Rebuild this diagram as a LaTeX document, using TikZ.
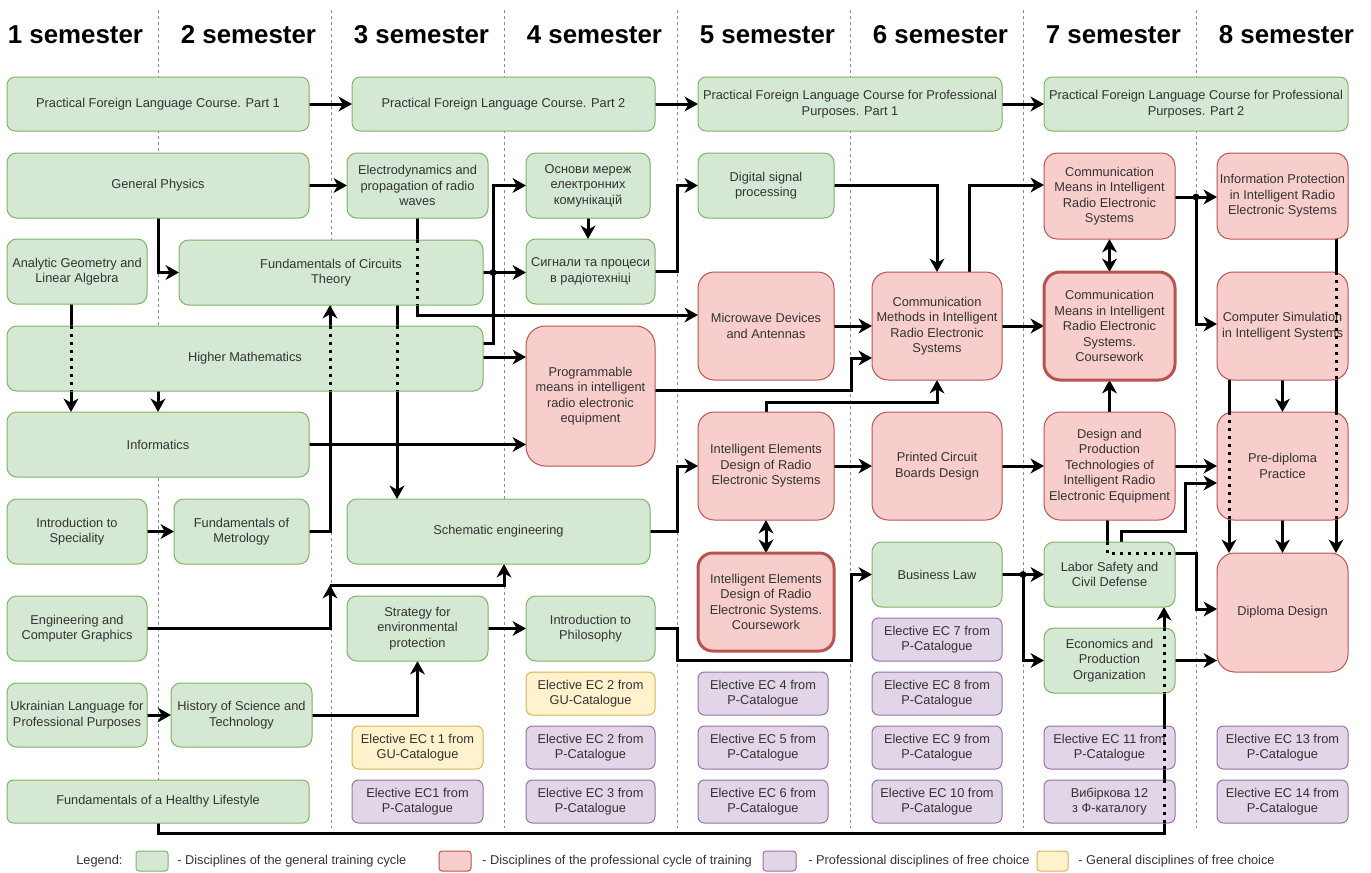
\documentclass[tikz,border=0pt]{standalone}
\usepackage{fontspec}
\setmainfont{Liberation Sans}
\usetikzlibrary{arrows.meta}
\definecolor{gfill}{HTML}{D5E8D4}\definecolor{gline}{HTML}{82B366}
\definecolor{rfill}{HTML}{F8CECC}\definecolor{rline}{HTML}{B85450}
\definecolor{pfill}{HTML}{E1D5E7}\definecolor{pline}{HTML}{9673A6}
\definecolor{yfill}{HTML}{FFF2CC}\definecolor{yline}{HTML}{D6B656}
\definecolor{txt}{HTML}{333333}
\pgfdeclarelayer{gridl}
\pgfdeclarelayer{edgel}
\pgfsetlayers{gridl,edgel,main}
\newcommand\mybox[7]{%
  \pgfmathsetmacro\mybw{(#5-#3)*0.75}%
  \pgfmathsetmacro\mybh{(#6-#4)*0.75}%
  \pgfmathsetmacro\mybr{0.15*min(\mybw,\mybh)}%
  \node[#1, minimum width=\mybw pt, minimum height=\mybh pt, rounded corners=\mybr pt] (#2) at ({(#3+#5)/2},{(#4+#6)/2}) {#7};}
\begin{document}
\begin{tikzpicture}[x=0.75pt,y=-0.75pt,
  box/.style={draw, line width=0.75pt, align=center, inner sep=1pt, outer sep=0pt, text=txt, font=\fontsize{9.6}{11.6}\selectfont},
  gbox/.style={box, fill=gfill, draw=gline},
  rbox/.style={box, fill=rfill, draw=rline},
  rthick/.style={rbox, line width=2.25pt},
  pbox/.style={box, fill=pfill, draw=pline},
  ybox/.style={box, fill=yfill, draw=yline},
  conn/.style={line width=2.25pt, -{Stealth[length=10pt,width=11pt,inset=3pt]}},
  dconn/.style={line width=2.25pt, {Stealth[length=10pt,width=11pt,inset=3pt]}-{Stealth[length=10pt,width=11pt,inset=3pt]}},
  dots/.style={line width=2.25pt, dash pattern=on 2.25pt off 3.75pt},
  gridline/.style={black!45, line width=0.75pt, dash pattern=on 2.25pt off 2.25pt},
  hdr/.style={font=\bfseries\fontsize{19.4}{23}\selectfont, anchor=base, text=black},
  jdot/.style={circle, fill=black, inner sep=0pt, minimum size=5.2pt},
  legtxt/.style={anchor=west, text=txt, font=\fontsize{9.6}{11.6}\selectfont, inner sep=0pt}]
\begin{pgfonlayer}{gridl}
\fill[white] (0,0) rectangle (1371,872);
\foreach \gx in {158,331,504,677,850,1023,1196} \draw[gridline] (\gx,10) -- (\gx,828);
\end{pgfonlayer}
\useasboundingbox (0,0) rectangle (1371,872);
% headers
\foreach \k in {1,...,8} \node[hdr] (hd\k) at ({75.5+173*(\k-1)},43) {\k\ semester};
% boxes
\mybox{gbox}{pfl1}{7}{77}{309}{131}{Practical Foreign Language Course. Part 1}
\mybox{gbox}{pfl2}{352}{77}{655}{131}{Practical Foreign Language Course. Part 2}
\mybox{gbox}{pflp1}{698}{77}{1002}{131}{Practical Foreign Language Course for Professional\\Purposes. Part 1}
\mybox{gbox}{pflp2}{1044}{77}{1348}{131}{Practical Foreign Language Course for Professional\\Purposes. Part 2}
\mybox{gbox}{phys}{7}{153}{309}{218}{General Physics}
\mybox{gbox}{edyn}{347}{153}{488}{218}{Electrodynamics and\\propagation of radio\\waves}
\mybox{gbox}{osn}{526}{153}{650}{218}{Основи мереж\\електронних\\комунікацій}
\mybox{gbox}{dsp}{698}{153}{834}{218}{Digital signal\\processing}
\mybox{rbox}{cmis}{1044}{153}{1175}{239}{Communication\\Means in Intelligent\\Radio Electronic\\Systems}
\mybox{rbox}{iprot}{1217}{153}{1348}{239}{Information Protection\\in Intelligent Radio\\Electronic Systems}
\mybox{gbox}{angeo}{7}{239}{147}{304}{Analytic Geometry and\\Linear Algebra}
\mybox{gbox}{circ}{179}{240}{483}{305}{Fundamentals of Circuits\\Theory}
\mybox{gbox}{sig}{526}{239}{655}{304}{Сигнали та процеси\\в радіотехніці}
\mybox{rbox}{micro}{698}{272}{834}{380}{Microwave Devices\\and Antennas}
\mybox{rbox}{cmeth}{872}{272}{1002}{380}{Communication\\Methods in Intelligent\\Radio Electronic\\Systems}
\mybox{rthick}{cmcw}{1044}{272}{1175}{380}{Communication\\Means in Intelligent\\Radio Electronic\\Systems.\\Coursework}
\mybox{rbox}{csim}{1217}{272}{1348}{380}{Computer Simulation\\in Intelligent Systems}
\mybox{gbox}{hmath}{7}{326}{483}{391}{Higher Mathematics}
\mybox{rbox}{prog}{526}{326}{655}{466}{Programmable\\means in intelligent\\radio electronic\\equipment}
\mybox{gbox}{info}{7}{412}{309}{477}{Informatics}
\mybox{rbox}{ied}{698}{412}{834}{520}{Intelligent Elements\\Design of Radio\\Electronic Systems}
\mybox{rbox}{pcb}{872}{412}{1002}{520}{Printed Circuit\\Boards Design}
\mybox{rbox}{dpt}{1044}{412}{1175}{520}{Design and\\Production\\Technologies of\\Intelligent Radio\\Electronic Equipment}
\mybox{rbox}{pdp}{1217}{412}{1348}{520}{Pre-diploma\\Practice}
\mybox{gbox}{intro}{7}{499}{147}{564}{Introduction to\\Speciality}
\mybox{gbox}{metro}{174}{499}{309}{564}{Fundamentals of\\Metrology}
\mybox{gbox}{schem}{347}{499}{650}{564}{Schematic engineering}
\mybox{rthick}{iedcw}{698}{553}{834}{651}{Intelligent Elements\\Design of Radio\\Electronic Systems.\\Coursework}
\mybox{gbox}{blaw}{872}{542}{1002}{607}{Business Law}
\mybox{gbox}{labor}{1044}{542}{1175}{607}{Labor Safety and\\Civil Defense}
\mybox{rbox}{dipl}{1217}{553}{1348}{672}{Diploma Design}
\mybox{gbox}{ecg}{7}{596}{147}{661}{Engineering and\\Computer Graphics}
\mybox{gbox}{strat}{347}{596}{488}{661}{Strategy for\\environmental\\protection}
\mybox{gbox}{phil}{526}{596}{655}{661}{Introduction to\\Philosophy}
\mybox{pbox}{ec7}{872}{618}{1002}{661}{Elective EC 7 from\\P-Catalogue}
\mybox{gbox}{econ}{1044}{628}{1175}{693}{Economics and\\Production\\Organization}
\mybox{gbox}{ukr}{7}{683}{147}{747}{Ukrainian Language for\\Professional Purposes}
\mybox{gbox}{hist}{171}{683}{312}{747}{History of Science and\\Technology}
\mybox{ybox}{ec2gu}{526}{672}{655}{715}{Elective EC 2 from\\GU-Catalogue}
\mybox{pbox}{ec4}{698}{672}{828}{715}{Elective EC 4 from\\P-Catalogue}
\mybox{pbox}{ec8}{872}{672}{1002}{715}{Elective EC 8 from\\P-Catalogue}
\mybox{ybox}{ec1gu}{352}{726}{483}{769}{Elective EC t 1 from\\GU-Catalogue}
\mybox{pbox}{ec2}{526}{726}{655}{769}{Elective EC 2 from\\P-Catalogue}
\mybox{pbox}{ec5}{698}{726}{828}{769}{Elective EC 5 from\\P-Catalogue}
\mybox{pbox}{ec9}{872}{726}{1002}{769}{Elective EC 9 from\\P-Catalogue}
\mybox{pbox}{ec11}{1044}{726}{1175}{769}{Elective EC 11 from\\P-Catalogue}
\mybox{pbox}{ec13}{1217}{726}{1348}{769}{Elective EC 13 from\\P-Catalogue}
\mybox{gbox}{health}{7}{780}{309}{823}{Fundamentals of a Healthy Lifestyle}
\mybox{pbox}{ec1}{352}{780}{483}{823}{Elective EC1 from\\P-Catalogue}
\mybox{pbox}{ec3}{526}{780}{655}{823}{Elective EC 3 from\\P-Catalogue}
\mybox{pbox}{ec6}{698}{780}{828}{823}{Elective EC 6 from\\P-Catalogue}
\mybox{pbox}{ec10}{872}{780}{1002}{823}{Elective EC 10 from\\P-Catalogue}
\mybox{pbox}{vyb}{1044}{780}{1175}{823}{Вибіркова 12\\з Ф-каталогу}
\mybox{pbox}{ec14}{1217}{780}{1348}{823}{Elective EC 14 from\\P-Catalogue}
% legend
\node[legtxt] (legend) at (76,861) {Legend:};
\mybox{gbox}{lg1}{136}{851}{168}{871}{}
\node[legtxt] (lt1) at (177,861) {- Disciplines of the general training cycle};
\mybox{rbox}{lg2}{439}{851}{471}{871}{}
\node[legtxt] (lt2) at (482,861) {- Disciplines of the professional cycle of training};
\mybox{pbox}{lg3}{763}{851}{796}{871}{}
\node[legtxt] (lt3) at (808,861) {- Professional disciplines of free choice};
\mybox{ybox}{lg4}{1037}{851}{1068}{871}{}
\node[legtxt] (lt4) at (1078,861) {- General disciplines of free choice};
\coordinate (j1) at (330,585);
% connectors
\begin{pgfonlayer}{edgel}
\draw[conn] (pfl1.east) -- (pfl2.west);
\draw[conn] (pfl2.east) -- (pflp1.west);
\draw[conn] (pflp1.east) -- (pflp2.west);
\draw[conn] (phys.east) -- (edyn.west);
\draw[conn] (phys.south) |- (circ.west);
\draw[conn] (edyn.south) |- (micro.west |- 0,315);
\draw[conn] (circ.east) -- (sig.west |- circ.east);
\draw[conn] (hmath.east |- 0,343) -- (493,343) |- (osn.west);
\draw[conn] (osn.south) -- (osn.south |- sig.north);
\draw[conn] (sig.east) -- (sig.east -| 677,0) |- (dsp.west);
\draw[conn] (hmath.east |- 0,357) -- (prog.west |- 0,357);
\draw[conn] (info.east) -- (prog.west |- info.east);
\draw[conn] (metro.east) -| (circ.south -| 330,0);
\draw[conn] (circ.south -| 397,0) -- (schem.north -| 397,0);
\draw[conn] (angeo.south -| 71,0) -- (info.north -| 71,0);
\draw[conn] (hmath.south -| info.north) -- (info.north);
\draw[conn] (intro.east) -- (metro.west);
\draw[conn] (ecg.east) -| (j1);
\draw[conn] (j1) -| (schem.south -| 504,0);
\draw[conn] (ukr.east) -- (hist.west);
\draw[conn] (hist.east) -| (strat.south);
\draw[conn] (strat.east) -- (phil.west);
\draw[conn] (phil.east) -- (phil.east -| 677,0) -- (677,660) -- (851,660) |- (blaw.west);
\draw[conn] (schem.east) -- (schem.east -| 677,0) |- (ied.west);
\draw[conn] (micro.east) -- (cmeth.west |- micro.east);
\draw[conn] (prog.east |- 0,390) -- (851,390) |- (cmeth.west |- 0,358);
\draw[conn] (ied.north) -- (ied.north |- 0,402) -| (cmeth.south);
\draw[conn] (dsp.east) -| (cmeth.north);
\draw[conn] (cmeth.north -| 969,0) |- (cmis.west |- 0,185);
\draw[conn] (cmeth.east) -- (cmcw.west);
\draw[conn] (ied.east) -- (pcb.west);
\draw[conn] (pcb.east) -- (dpt.west);
\draw[dconn] (ied.south) -- (iedcw.north);
\draw[dconn] (cmis.south) -- (cmcw.north);
\draw[conn] (dpt.north) -- (cmcw.south);
\draw[conn] (cmis.east |- 0,197) -- (iprot.west |- 0,197);
\draw[conn] (cmis.east |- 0,197) -- (1196,197) |- (csim.west |- 0,324);
\draw[conn] (iprot.south -| 1336,0) -- (dipl.north -| 1336,0);
\draw[conn] (csim.south) -- (pdp.north);
\draw[conn] (csim.south -| 1229,0) -- (dipl.north -| 1229,0);
\draw[conn] (pdp.south) -- (dipl.north);
\draw[conn] (dpt.east) -- (pdp.west);
\draw[conn] (labor.north -| 1121,0) -- (1121,531) -- (1185,531) |- (pdp.west |- 0,483);
\draw[conn] (dpt.south -| 1107,0) -- (1107,553) -- (1196,553) |- (dipl.west |- 0,609);
\draw[conn] (blaw.east) -- (labor.west);
\draw[conn] (blaw.east -| 1023,0) |- (econ.west);
\draw[conn] (econ.east) -- (dipl.west |- econ.east);
\draw[conn] (health.south) -- (health.south |- 0,833) -- (1164,833) -- (labor.south -| 1164,0);
\end{pgfonlayer}
% lines seen through boxes
\draw[dots] (edyn.south |- circ.north) -- (edyn.south |- circ.south);
\draw[dots] (hmath.north -| 330,0) -- (hmath.south -| 330,0);
\draw[dots] (hmath.north -| 397,0) -- (hmath.south -| 397,0);
\draw[dots] (hmath.north -| 71,0) -- (hmath.south -| 71,0);
\draw[dots] (csim.north -| 1336,0) -- (csim.south -| 1336,0);
\draw[dots] (pdp.north -| 1336,0) -- (pdp.south -| 1336,0);
\draw[dots] (pdp.north -| 1229,0) -- (pdp.south -| 1229,0);
\draw[dots] (labor.north -| 1107,0) -- (1107,553) -- (labor.east |- 0,553);
\draw[dots] (econ.north -| 1164,0) -- (econ.south -| 1164,0);
\draw[dots] (ec11.north -| 1164,0) -- (ec11.south -| 1164,0);
\draw[dots] (vyb.north -| 1164,0) -- (vyb.south -| 1164,0);
% junctions
\node[jdot] (jd1) at (493,272.5) {};
\node[jdot] (jd2) at (1196,197) {};
\node[jdot] (jd3) at (1023,574.5) {};
\end{tikzpicture}
\end{document}
